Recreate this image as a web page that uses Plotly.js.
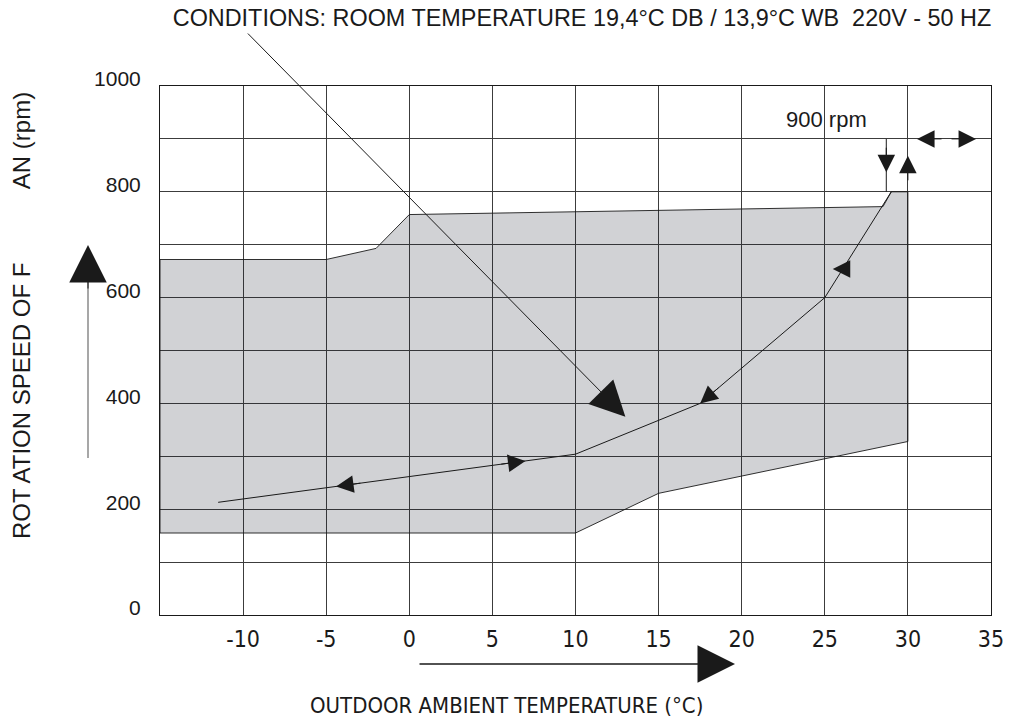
<!DOCTYPE html>
<html>
<head>
<meta charset="utf-8">
<script src="https://cdn.plot.ly/plotly-3.0.1.min.js"></script>
<style>html,body{margin:0;padding:0;background:#fff;}#chart{width:1015px;height:721px;}</style>
</head>
<body>
<div id="chart"></div>
<script>
// ---- data ----
const envelopeTemp = [-15, -5, -2, 0, 28.5, 29, 30, 30, 15, 10, -15, -15];
const envelopeRpm  = [672, 672, 693, 757, 772, 800, 800, 328, 230, 155, 155, 672];
const fanTemp = [-11.5, 10, 17.5, 25, 29];
const fanRpm  = [213, 304, 400, 600, 800];
const maxRpm = 900;
const xTickVals = [-10, -5, 0, 5, 10, 15, 20, 25, 30, 35];
const yTickVals = [0, 200, 400, 600, 800, 1000];
const titleText = 'CONDITIONS: ROOM TEMPERATURE 19,4°C DB / 13,9°C WB \u00a0220V - 50 HZ';
const xTitle = 'OUTDOOR AMBIENT TEMPERATURE (°C)';
const yTitle = 'ROT ATION SPEED OF F\u00a0\u00a0\u00a0\u00a0\u00a0\u00a0\u00a0\u00a0\u00a0\u00a0\u00a0AN (rpm)';
const rpmLabel = '900 rpm';

// ---- layout geometry ----
const W = 1015, H = 721;
const M = {l: 160, r: 24, t: 86, b: 106};
const xRange = [-15, 35], yRange = [0, 1000];
const plotW = W - M.l - M.r, plotH = H - M.t - M.b;
const pxX = plotW / (xRange[1] - xRange[0]);
const pxY = plotH / (yRange[1] - yRange[0]);
const ink = '#1a1a1a';
const sans = "'Liberation Sans', Arial, Helvetica, sans-serif";
const narrow = "'Liberation Sans Narrow', 'Arial Narrow', 'DejaVu Sans Condensed', 'Liberation Sans', Arial, sans-serif";

function ptOn(i, f) {
  return [fanTemp[i] + (fanTemp[i+1] - fanTemp[i]) * f, fanRpm[i] + (fanRpm[i+1] - fanRpm[i]) * f];
}
function head(x, y, dxp, dyp, size, tail, extra) {
  const L = Math.hypot(dxp, dyp);
  return Object.assign({
    x: x, y: y, xref: 'x', yref: 'y', text: '', showarrow: true,
    ax: -dxp / L * tail, ay: -dyp / L * tail, axref: 'pixel', ayref: 'pixel',
    arrowhead: 2, arrowsize: size, arrowwidth: 1, arrowcolor: ink, font: {size: 1}
  }, extra || {});
}
function headAlong(i, f, dir, size, extra) {
  const p = ptOn(i, f);
  const dxp = (fanTemp[i+1] - fanTemp[i]) * pxX * dir;
  const dyp = -(fanRpm[i+1] - fanRpm[i]) * pxY * dir;
  return head(p[0], p[1], dxp, dyp, size, 26, extra);
}

const traces = [
  {
    x: envelopeTemp, y: envelopeRpm, type: 'scatter', mode: 'lines',
    fill: 'toself', fillcolor: 'rgba(25,30,45,0.2)',
    line: {color: ink, width: 0.9}, hoverinfo: 'skip', showlegend: false
  },
  {
    x: fanTemp, y: fanRpm, type: 'scatter', mode: 'lines',
    line: {color: ink, width: 1}, hoverinfo: 'skip', showlegend: false
  }
];

const p3 = ptOn(3, 0.27);
const annotations = [
  headAlong(0, 0.33, -1, 3.5),
  headAlong(0, 0.86, 1, 3.5),
  headAlong(2, 0.0, -1, 3.5),
  head(p3[0], p3[1], -1, 0, 3.5, 16, {xshift: -10}),
  // 900 rpm markers
  head(28.7, 837, 0, 1, 3.5, 26),
  head(30, 868, 0, -1, 3.5, 26),
  head(30.55, maxRpm, -1, 0, 3.5, 26),
  head(34.1, maxRpm, 1, 0, 3.5, 26),
  {x: 25.1, y: 936, xref: 'x', yref: 'y', text: rpmLabel, showarrow: false,
   font: {family: sans, size: 22, color: ink}},
  // conditions arrow
  {x: 13, y: 375, xref: 'x', yref: 'y', ax: -9.8, ay: 1102, axref: 'x', ayref: 'y',
   text: '', showarrow: true, arrowhead: 2, arrowsize: 7, arrowwidth: 1, arrowcolor: ink, font: {size: 1}},
  // axis direction arrows
  {x: (88 - M.l) / plotW, y: (615 - 245) / plotH, xref: 'paper', yref: 'paper', text: '',
   showarrow: true, ax: 0, ay: 45, arrowhead: 2, arrowsize: 7.5, arrowwidth: 1, arrowcolor: ink, font: {size: 1}},
  {x: (735 - M.l) / plotW, y: -(664 - 615) / plotH, xref: 'paper', yref: 'paper', text: '',
   showarrow: true, ax: -317, ay: 0, arrowhead: 2, arrowsize: 5, arrowwidth: 1.5, arrowcolor: ink, font: {size: 1}},
  // titles
  {x: (21 - M.l) / plotW, y: (615 - 316) / plotH, xref: 'paper', yref: 'paper', text: yTitle,
   textangle: -90, showarrow: false, xanchor: 'center', yanchor: 'middle',
   font: {family: sans, size: 24, color: ink}},
  {x: (506 - M.l) / plotW, y: -(705 - 615) / plotH, xref: 'paper', yref: 'paper', text: xTitle,
   showarrow: false, xanchor: 'center', yanchor: 'middle',
   font: {family: narrow, size: 22, color: ink}}
];

const shapes = [
  {type: 'line', xref: 'x', yref: 'y', x0: 28.7, x1: 28.7, y0: 800, y1: maxRpm, line: {color: ink, width: 1}},
  {type: 'line', xref: 'paper', yref: 'paper', x0: (88 - M.l) / plotW, x1: (88 - M.l) / plotW,
   y0: (615 - 458) / plotH, y1: (615 - 275) / plotH, line: {color: '#8a8a8a', width: 1.5}}
];

const layout = {
  width: W, height: H, margin: M,
  paper_bgcolor: '#fff', plot_bgcolor: '#fff', showlegend: false,
  title: {text: titleText, x: 582 / W, xanchor: 'center', y: 1 - 18 / H, yanchor: 'middle',
          font: {family: sans, size: 23.4, color: ink}},
  xaxis: {
    range: xRange, tickvals: xTickVals, ticktext: xTickVals.map(String),
    showgrid: true, gridcolor: '#3c3c3c', gridwidth: 1,
    zeroline: false, showline: true, mirror: true, linecolor: ink, linewidth: 1,
    ticks: '', ticklabelstandoff: 3,
    tickfont: {family: narrow, size: 23, color: ink}, fixedrange: true
  },
  yaxis: {
    range: yRange, tickvals: yTickVals,
    showgrid: true, gridcolor: '#3c3c3c', gridwidth: 1,
    minor: {dtick: 100, tick0: 0, showgrid: true, gridcolor: '#3c3c3c', gridwidth: 1, ticks: ''},
    zeroline: false, showline: true, mirror: true, linecolor: ink, linewidth: 1,
    ticks: '', ticklabelstandoff: 14, ticklabelshift: -7,
    tickfont: {family: sans, size: 21, color: ink}, fixedrange: true
  },
  annotations: annotations,
  shapes: shapes
};

Plotly.newPlot('chart', traces, layout, {displayModeBar: false, staticPlot: true});
</script>
</body>
</html>
